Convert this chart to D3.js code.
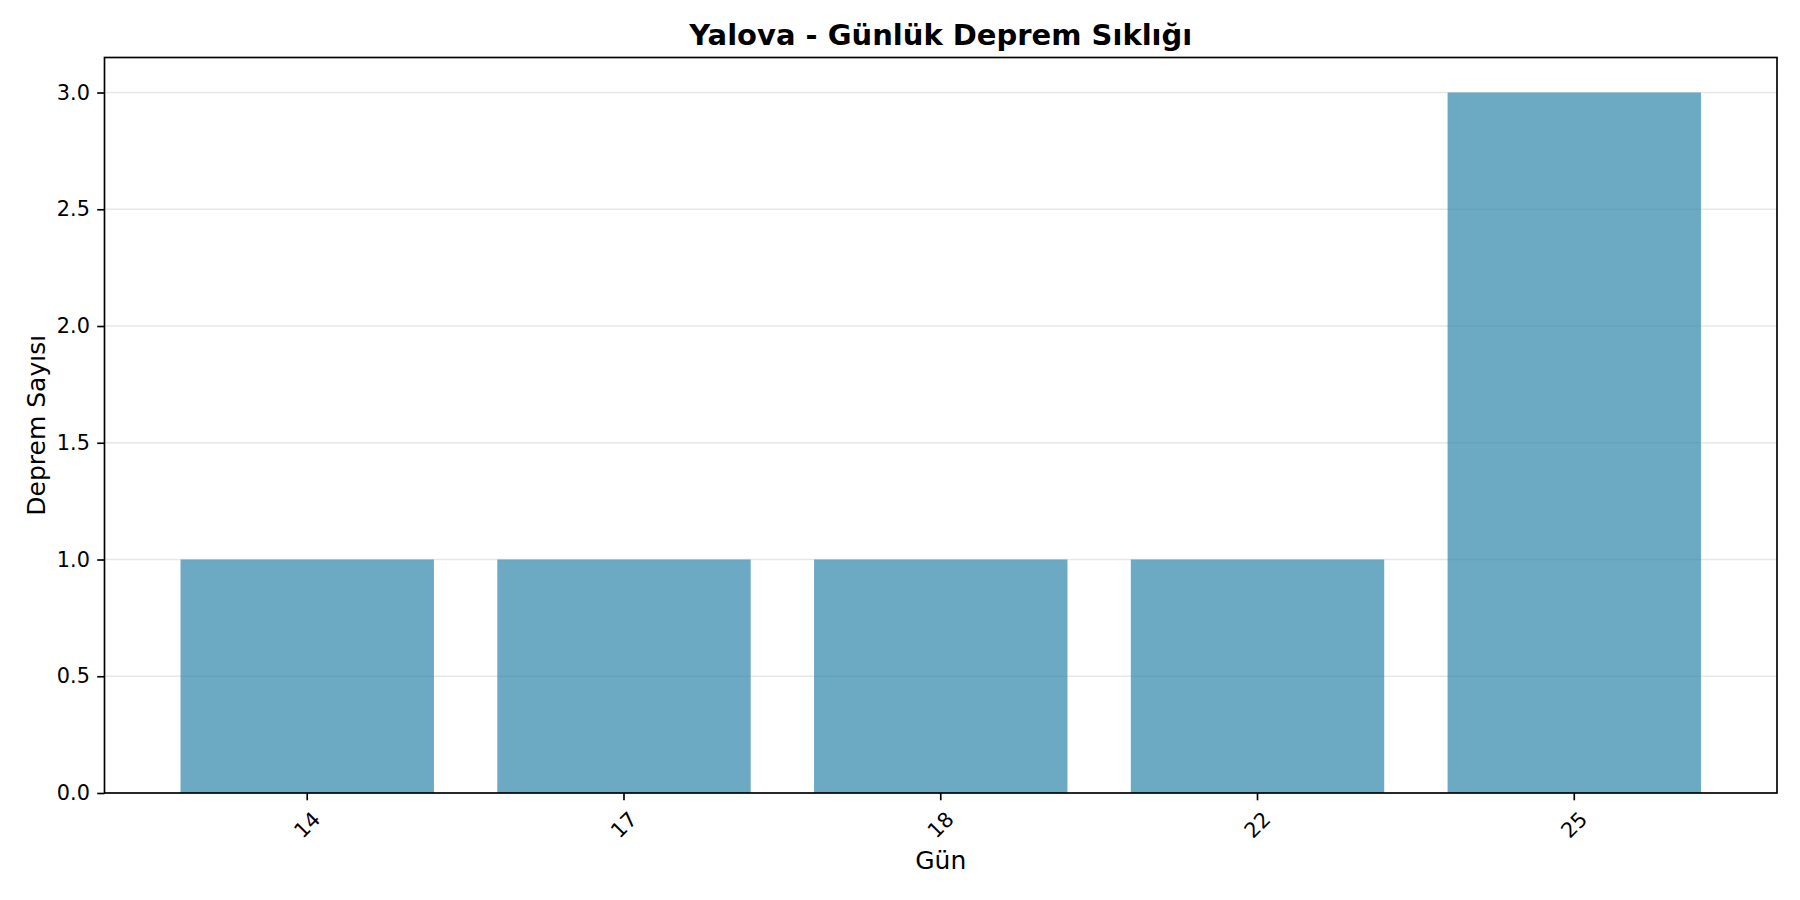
<!DOCTYPE html>
<html>
<head>
<meta charset="utf-8">
<script src="https://cdn.jsdelivr.net/npm/d3@7"></script>
<style>
  body { margin: 0; background: #fff; }
  text { font-family: "DejaVu Sans", sans-serif; fill: #000; }
</style>
</head>
<body>
<div id="chart"></div>
<script>
// data
var days = ["14", "17", "18", "22", "25"];
var counts = [1, 1, 1, 1, 3];
var yTicks = [0, 0.5, 1.0, 1.5, 2.0, 2.5, 3.0];

var barColor = "#2E86AB";

var width = 1800, height = 900;
var margin = {top: 57.5, right: 23, bottom: 107, left: 104.5};
var plotW = width - margin.left - margin.right;
var plotH = height - margin.top - margin.bottom;

var svg = d3.select("#chart").append("svg")
    .attr("width", width)
    .attr("height", height);

var g = svg.append("g")
    .attr("transform", "translate(" + margin.left + "," + margin.top + ")");

// matplotlib style: width 0.8, 5% margins on the x data range
var x = d3.scaleBand()
    .domain(days)
    .range([0, plotW])
    .paddingInner(0.2)
    .paddingOuter(0.24);

var y = d3.scaleLinear()
    .domain([0, 3.15])
    .range([plotH, 0]);

// grid behind bars
g.selectAll("line.grid")
    .data(yTicks)
    .join("line")
    .attr("class", "grid")
    .attr("x1", 0)
    .attr("x2", plotW)
    .attr("y1", function(d) { return y(d); })
    .attr("y2", function(d) { return y(d); })
    .style("stroke", "#b0b0b0")
    .style("stroke-opacity", 0.3)
    .style("stroke-width", 1.67);

g.selectAll("rect.bar")
    .data(counts)
    .join("rect")
    .attr("class", "bar")
    .attr("x", function(d, i) { return x(days[i]); })
    .attr("width", x.bandwidth())
    .attr("y", function(d) { return y(d); })
    .attr("height", function(d) { return plotH - y(d); })
    .attr("fill", barColor)
    .attr("fill-opacity", 0.7);

// y axis
var yAxis = g.append("g")
    .call(d3.axisLeft(y).tickValues(yTicks).tickFormat(d3.format(".1f")).tickSize(7.3).tickPadding(7.3));
yAxis.select(".domain").remove();
yAxis.selectAll(".tick line").style("stroke", "#000").style("stroke-width", 1.67);
yAxis.selectAll(".tick text")
    .style("font-size", "20.8px")
    .style("font-family", "DejaVu Sans, sans-serif");

// x axis
var xAxis = g.append("g")
    .attr("transform", "translate(0," + plotH + ")")
    .call(d3.axisBottom(x).tickSize(7.3).tickPadding(7.3));
xAxis.select(".domain").remove();
xAxis.selectAll(".tick line").style("stroke", "#000").style("stroke-width", 1.67);
xAxis.selectAll(".tick text")
    .style("font-size", "20.8px")
    .style("font-family", "DejaVu Sans, sans-serif")
    .attr("y", 0)
    .attr("dy", null)
    .attr("text-anchor", "middle")
    .attr("dominant-baseline", "central")
    .attr("transform", "translate(0,32) rotate(-45)");

// frame
g.append("rect")
    .attr("width", plotW)
    .attr("height", plotH)
    .attr("fill", "none")
    .style("stroke", "#000")
    .style("stroke-width", 1.67);

// title and labels
svg.append("text")
    .attr("x", margin.left + plotW / 2)
    .attr("y", 45)
    .attr("text-anchor", "middle")
    .style("font-size", "29px")
    .style("font-weight", "bold")
    .text("Yalova - Günlük Deprem Sıklığı");

svg.append("text")
    .attr("x", margin.left + plotW / 2)
    .attr("y", 869)
    .attr("text-anchor", "middle")
    .style("font-size", "25px")
    .text("Gün");

svg.append("text")
    .attr("transform", "translate(36," + (margin.top + plotH / 2) + ") rotate(-90)")
    .attr("text-anchor", "middle")
    .attr("dy", "0.35em")
    .style("font-size", "25px")
    .text("Deprem Sayısı");
</script>
</body>
</html>
